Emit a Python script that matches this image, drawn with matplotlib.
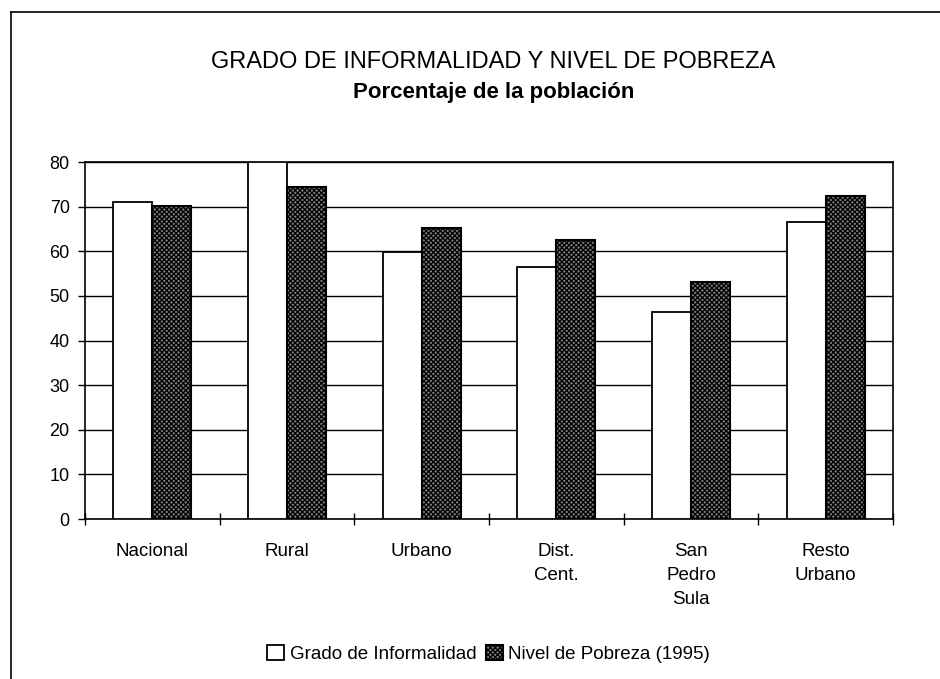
import matplotlib
matplotlib.use("Agg")
import matplotlib.pyplot as plt
import numpy as np
from matplotlib.lines import Line2D

plt.rcParams['font.family'] = ['Liberation Sans', 'DejaVu Sans']
plt.rcParams['hatch.linewidth'] = 0.9

categories = ["Nacional", "Rural", "Urbano", "Dist.\nCent.", "San\nPedro\nSula", "Resto\nUrbano"]
informalidad = [71.0, 80.0, 59.8, 56.4, 46.5, 66.6]
pobreza = [70.1, 74.4, 65.2, 62.5, 53.2, 72.4]
series_names = ["Grado de Informalidad", "Nivel de Pobreza (1995)"]
yticks = [0, 10, 20, 30, 40, 50, 60, 70, 80]

fig = plt.figure(figsize=(9.40, 6.79), dpi=100)
ax = fig.add_axes([0.0904, 0.2356, 0.8596, 0.5258])

x = np.arange(len(categories))
w = 0.29
ax.bar(x - w / 2, informalidad, width=w, color='white', edgecolor='black', linewidth=1.3, zorder=3,
       label=series_names[0])
ax.bar(x + w / 2, pobreza, width=w, color='#7a7a7a', edgecolor='black', hatch='xxxxxxx', linewidth=1.5, zorder=3,
       label=series_names[1])

ax.set_xlim(-0.5, len(categories) - 0.5)
ax.set_ylim(0, 80)
ax.set_yticks(yticks)
ax.set_yticklabels([str(v) for v in yticks], fontsize=13)
ax.yaxis.grid(True, color='black', linewidth=1.0, zorder=0)
ax.tick_params(axis='y', direction='out', length=5, width=1, pad=6)

ax.set_xticks(np.arange(len(categories) + 1) - 0.5, minor=True)
ax.set_xticks(x)
ax.set_xticklabels(categories, fontsize=13.5, linespacing=1.55, va='top')
ax.tick_params(axis='x', which='major', length=0, pad=17)
ax.tick_params(axis='x', which='minor', direction='inout', length=8, width=1)

for s in ax.spines.values():
    s.set_linewidth(1.2)
    s.set_color('black')

fig.text(0.525, 0.908, "GRADO DE INFORMALIDAD Y NIVEL DE POBREZA", ha='center', va='center', fontsize=17)
fig.text(0.525, 0.864, "Porcentaje de la población", ha='center', va='center', fontsize=16, fontweight='bold')

leg = fig.legend(loc='center', bbox_to_anchor=(0.52, 0.037), ncol=2, frameon=False, fontsize=13.5,
                 handlelength=0.9, handleheight=0.9, handletextpad=0.3, columnspacing=0.5)

# outer chart frame (left and top edges visible)
fig.add_artist(Line2D([0.0117, 0.0117], [0.0, 0.982], transform=fig.transFigure, color='black', linewidth=1.2))
fig.add_artist(Line2D([0.0117, 1.0], [0.982, 0.982], transform=fig.transFigure, color='black', linewidth=1.2))

fig.savefig("out.png", dpi=100)
